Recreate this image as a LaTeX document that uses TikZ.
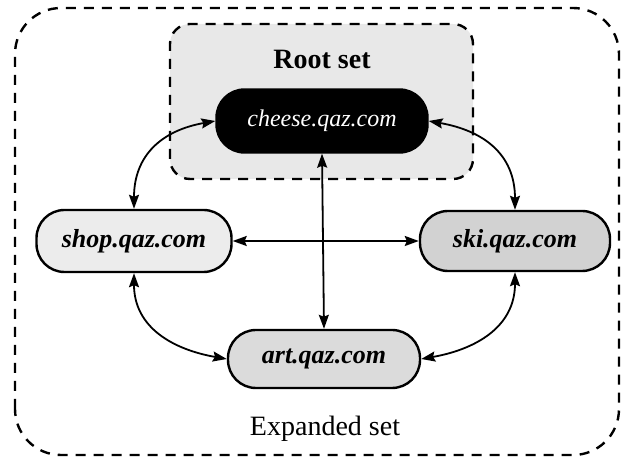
\documentclass[tikz,border=0pt]{standalone}
\usepackage{fontspec}
\setmainfont{Liberation Serif}
\usetikzlibrary{arrows.meta}
\begin{document}
\begin{tikzpicture}[x=1pt,y=1pt,
  setbox/.style={draw=black,line width=2.4pt,dash pattern=on 10pt off 8pt},
  host/.style={draw=black,line width=2.4pt,rectangle,rounded corners=28pt,inner sep=0pt,
    font=\fontsize{26}{30}\selectfont\bfseries\itshape},
  link/.style={line width=1.8pt,{Stealth[length=14pt,width=10pt,inset=2pt]}-{Stealth[length=14pt,width=10pt,inset=2pt]}}]
\useasboundingbox (0,0) rectangle (624,457);
% outer expanded set
\draw[setbox,rounded corners=46pt] (15,2) rectangle (619,449);
% root set
\draw[setbox,fill=gray!18,rounded corners=20pt] (170,278) rectangle (473,433);
\node (rootlbl) at (322,398) {\fontsize{28}{32}\selectfont\bfseries Root set};
\node (explbl) at (325,28) {\fontsize{28}{32}\selectfont Expanded set};
% hosts
\node[host,fill=black,text=white,minimum width=211pt,minimum height=63pt,font=\fontsize{24}{30}\selectfont\itshape] (cheese) at (322,336) {cheese.qaz.com};
\node[host,fill=gray!15,minimum width=195pt,minimum height=62pt] (shop) at (134,216) {shop.qaz.com};
\node[host,fill=gray!35,minimum width=190pt,minimum height=60pt] (ski) at (515,216) {ski.qaz.com};
\node[host,fill=gray!28,minimum width=192pt,minimum height=58pt] (art) at (324,98) {art.qaz.com};
% links
\draw[link] (cheese.west) to[out=190,in=90,looseness=1.15] (shop.north);
\draw[link] (cheese.east) to[out=-10,in=90,looseness=1.15] (ski.north);
\draw[link] (cheese.south) -- (art.north);
\draw[link] (shop.east) -- (ski.west);
\draw[link] (shop.south) to[out=-90,in=170,looseness=1.1] (art.west);
\draw[link] (ski.south) to[out=-90,in=10,looseness=1.1] (art.east);
\end{tikzpicture}
\end{document}
